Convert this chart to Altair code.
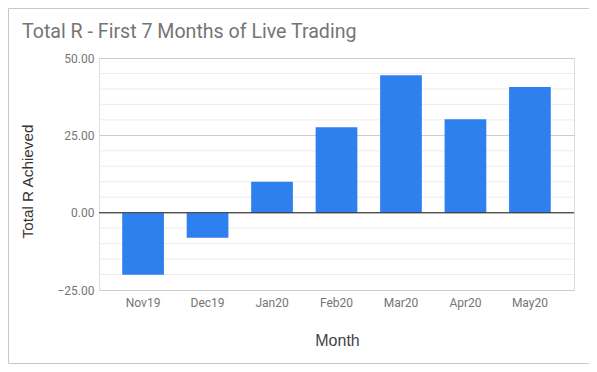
import altair as alt
import pandas as pd

months = ["Nov19", "Dec19", "Jan20", "Feb20", "Mar20", "Apr20", "May20"]
total_r = [-20.1, -8.1, 10.0, 27.6, 44.4, 30.2, 40.6]
major_ticks = [-25, 0, 25, 50]
minor_ticks = [-20, -15, -10, -5, 5, 10, 15, 20, 30, 35, 40, 45]

df = pd.DataFrame({"Month": months, "R": total_r})
minor_df = pd.DataFrame({"v": minor_ticks})
zero_df = pd.DataFrame({"v": [0]})
frame_df = pd.DataFrame({"k": [0]})

FONT = "Roboto"
TFONT = "Liberation Sans"
W, H = 475, 232

y_scale = alt.Scale(domain=[-25, 50], nice=False, zero=False)

minor = alt.Chart(minor_df).mark_rule(color="#ececec", strokeWidth=1).encode(
    y=alt.Y("v:Q", scale=y_scale)
)

bars = alt.Chart(df).mark_bar(color="#2f80ef", cornerRadius=0).encode(
    x=alt.X(
        "Month:N",
        sort=months,
        scale=alt.Scale(paddingInner=0.353, paddingOuter=0.36),
        axis=alt.Axis(
            title="Month",
            labelAngle=0,
            labelFont=FONT,
            labelFontSize=12,
            labelColor="#757575",
            labelPadding=7,
            labelBaseline="top",
            domain=False,
            ticks=False,
            tickSize=0,
            grid=False,
            titleFont=TFONT,
            titleFontSize=16,
            titleFontWeight="normal",
            titleColor="#444444",
            titleX=238,
            titleY=50,
            titleBaseline="middle",
            titleAlign="center",
        ),
    ),
    y=alt.Y(
        "R:Q",
        scale=y_scale,
        axis=alt.Axis(
            title="Total R Achieved",
            values=major_ticks,
            format=".2f",
            labelFont=FONT,
            labelFontSize=12,
            labelColor="#757575",
            labelPadding=5,
            domain=False,
            ticks=False,
            tickSize=0,
            grid=True,
            gridColor="#cccccc",
            gridWidth=1,
            titleFont=TFONT,
            titleFontSize=15.3,
            titleFontWeight="normal",
            titleColor="#333333",
            titleAngle=-90,
            titleX=-72,
            titleY=123,
            titleBaseline="middle",
            titleAlign="center",
        ),
    ),
)

zero = alt.Chart(zero_df).mark_rule(color="#333333", strokeWidth=1).encode(
    y=alt.Y("v:Q", scale=y_scale)
)

frame = alt.Chart(frame_df).mark_rect(
    fill="transparent", stroke="#c8c8c8", strokeWidth=1
).encode(
    x=alt.value(-90.5), x2=alt.value(W + 99.5),
    y=alt.value(-49.5), y2=alt.value(H + 73.5),
)

chart = alt.layer(minor, bars, zero, frame).properties(
    width=W,
    height=H,
    padding={"left": 91, "top": 50, "right": 15, "bottom": 74},
    autosize=alt.AutoSizeParams(type="none"),
    title=alt.TitleParams(
        "Total R - First 7 Months of Live Trading",
        anchor="start",
        frame="group",
        dx=-77,
        baseline="alphabetic",
        offset=-50,
        font=FONT,
        fontSize=19.6,
        fontWeight="normal",
        color="#757575",
    ),
).configure_view(stroke=None).configure(background="white")

chart.save("out.html", embed_options={"renderer": "svg", "actions": False})
